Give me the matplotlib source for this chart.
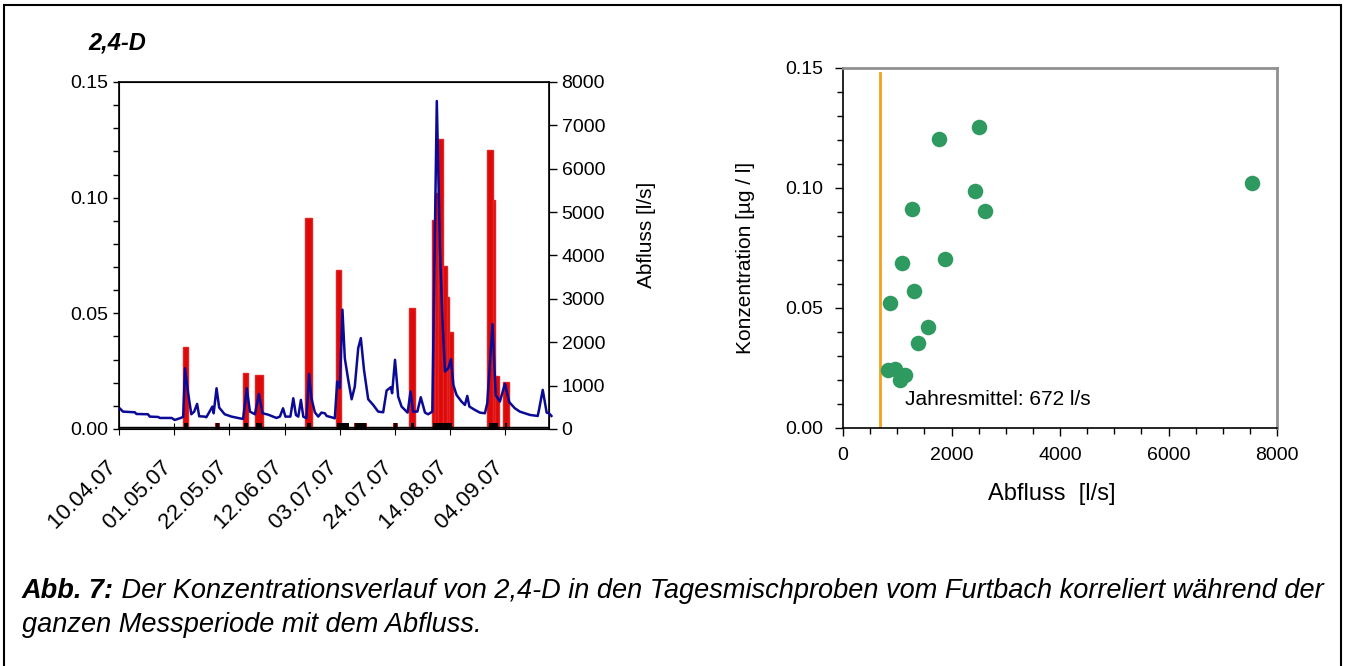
import numpy as np
import matplotlib
matplotlib.use("Agg")
import matplotlib.pyplot as plt
from matplotlib.patches import Rectangle
from matplotlib.ticker import MultipleLocator, FormatStrFormatter

plt.rcParams['font.family'] = ['Liberation Sans', 'DejaVu Sans']

# Tage seit 10.04.07
date_labels = ['10.04.07', '01.05.07', '22.05.07', '12.06.07',
               '03.07.07', '24.07.07', '14.08.07', '04.09.07']
label_days = [0, 21, 42, 63, 84, 105, 126, 147]

# Abfluss (l/s), Knickpunkte der Ganglinie
q_days = [0.5, 1.5, 6, 6.6, 11, 11.7, 14.9, 15.5, 20, 21.2, 23.1, 24.4, 25.1, 26.3,
          27.5, 28.6, 29.7, 30.5, 32.6, 33.2, 34.3, 35.5, 36.0, 37.1, 38.1, 40.2,
          42.8, 45.9, 47.2, 48.6, 49.8, 51.7, 53.2, 54.6, 56.7, 58.6, 59.9, 61.2,
          62.4, 63.3, 65.2, 66.3, 67.3, 68.2, 69.2, 70.1, 71.3, 72.3, 73.2, 74.5,
          75.8, 77.0, 78.3, 79.0, 80.8, 82.1, 83.0, 84.0, 85.0, 85.9, 87.2, 88.5,
          89.7, 91.0, 92.0, 93.2, 94.8, 96.7, 98.6, 100.5, 101.8, 103.4, 103.9,
          105.0, 106.2, 107.5, 109.4, 109.8, 110.9, 111.9, 113.5, 114.8, 116.4,
          117.6, 119.2, 120.9, 122.1, 123.0, 124.0, 125.3, 126.3, 127.2, 128.4,
          130.3, 131.6, 132.5, 133.3, 135.4, 137.3, 139.2, 140.1, 142.1, 143.3,
          144.9, 146.8, 148.5, 150.6, 152.5, 154.4, 156.4, 159.3, 159.9, 161.2,
          162.7, 163.6, 164.5]
q_vals = [462, 400, 385, 346, 339, 285, 277, 254, 254, 208, 246, 277, 1401, 824,
          339, 400, 578, 293, 285, 270, 385, 516, 362, 939, 493, 339,
          285, 246, 231, 939, 400, 339, 808, 362, 331, 285, 254, 285,
          477, 285, 285, 708, 323, 285, 670, 285, 246, 1270, 708, 385,
          285, 377, 362, 300, 270, 246, 1093, 939, 2749, 1632, 1132, 685,
          978, 1863, 2094, 1363, 685, 554, 400, 385, 886, 962, 824,
          1594, 747, 516, 400, 377, 862, 400, 400, 731, 377,
          339, 400, 7561, 4135, 2595, 1324, 1401, 1609, 1016, 785,
          631, 554, 762, 516, 439, 377, 362, 593, 2418, 785,
          631, 1040, 616, 477, 400, 362, 323, 300, 477, 901,
          377, 362, 300]

# Konzentration 2,4-D (ug/l), Probenahme von-bis (Tage)
s_start = [24.5, 47.3, 51.9, 70.8, 82.4, 110.4, 118.9, 120.4, 121.4, 123.2,
           124.6, 125.5, 140.1, 142.1, 143.0, 146.2]
s_end = [26.3, 49.2, 54.6, 73.6, 84.4, 112.6, 120.4, 121.4, 123.2, 124.6,
         125.5, 127.1, 142.1, 143.0, 144.5, 148.3]
conc = [0.0355, 0.0242, 0.0235, 0.0913, 0.0688, 0.0521, 0.0903, 0.1021, 0.1254,
        0.0704, 0.0571, 0.0421, 0.1204, 0.0988, 0.0227, 0.0201]

# Marker am Boden (Probenahmeperioden)
nd_start = [24.9, 36.9, 47.7, 52.3, 71.4, 82.9, 89.7, 104.7, 110.9, 119.5, 140.7, 146.7]
nd_end = [26.1, 38.1, 48.9, 54.3, 73.2, 87.6, 93.8, 105.8, 112.1, 126.5, 144.0, 147.7]
nd_red = [False, True, False, False, False, False, True, True, False, False, False, False]

# Streudiagramm: Abfluss vs Konzentration
sc_q = [2500, 1767, 7541, 2425, 1274, 2610, 1870, 1089, 1315, 870, 1575, 1390,
        829, 966, 1151, 1048]
sc_c = [0.1254, 0.1204, 0.1021, 0.0988, 0.0913, 0.0903, 0.0704, 0.0688, 0.0571,
        0.0521, 0.0421, 0.0354, 0.0240, 0.0246, 0.0222, 0.0201]
q_mean = 672

fs = 14
fig = plt.figure(figsize=(13.45, 6.66), dpi=100)
fig.patches.append(Rectangle((0.003, -0.02), 0.994, 1.013, transform=fig.transFigure,
                             fill=False, lw=1.5, ec='black'))

# ---- links: Zeitreihe
ax1 = fig.add_axes([0.0885, 0.3559, 0.3197, 0.521])
ax2 = ax1.twinx()

widths = np.array(s_end) - np.array(s_start)
ax1.bar(s_start, conc, width=widths, align='edge', color='#DD0808',
        edgecolor='#E42424', linewidth=1.0, zorder=2)
nd_w = np.array(nd_end) - np.array(nd_start)
for x0, w, r in zip(nd_start, nd_w, nd_red):
    if r:
        ax1.bar(x0 - 0.4, 0.0026, width=w + 0.8, align='edge', color='#DD0808', lw=0, zorder=2)
ax1.bar(nd_start, [0.0026] * len(nd_start), width=nd_w, align='edge', color='black',
        lw=0, zorder=3)
ax1.axhline(0.0007, color='black', lw=1, zorder=3)

ax1.set_xlim(0, 163.6)
ax1.set_ylim(0, 0.15)
ax1.set_xticks(label_days)
# trailing spaces push the rotated labels a little to the lower left
ax1.set_xticklabels([d + '   ' for d in date_labels], rotation=45, ha='right', va='top',
                    rotation_mode='anchor', fontsize=16)
ax1.yaxis.set_major_locator(MultipleLocator(0.05))
ax1.yaxis.set_minor_locator(MultipleLocator(0.01))
ax1.yaxis.set_major_formatter(FormatStrFormatter('%.2f'))
ax1.tick_params(axis='y', which='both', direction='out', length=4.5, width=1,
                labelsize=fs)
ax1.tick_params(axis='x', direction='inout', length=8, width=0.8, pad=7)
for sp in ax1.spines.values():
    sp.set_linewidth(1.2)

ax2.plot(q_days, q_vals, color='#0A0A96', lw=1.8, clip_on=False, zorder=4)
ax2.set_ylim(0, 8000)
ax2.set_yticks(np.arange(0, 8001, 1000))
ax2.tick_params(axis='y', direction='out', length=5.5, width=1, labelsize=fs)
ax2.set_xlim(0, 163.6)

fig.text(0.0654, 0.9354, '2,4-D', fontsize=17, fontweight='bold', style='italic',
         ha='left', va='center')
fig.text(0.481, 0.647, 'Abfluss [l/s]', rotation=90, fontsize=15, ha='center', va='center')

# ---- rechts: Streudiagramm
ax3 = fig.add_axes([0.6268, 0.3574, 0.3227, 0.5405])
ax3.axvline(q_mean, ymax=0.987, color='#F5A01E', lw=2, zorder=2)
ax3.scatter(sc_q, sc_c, s=125, color='#2E9A60', zorder=3, linewidths=0)
ax3.text(1140, 0.0117, 'Jahresmittel: %d l/s' % q_mean, fontsize=15,
         ha='left', va='center')
ax3.set_xlim(0, 8000)
ax3.set_ylim(0, 0.15)
ax3.xaxis.set_major_locator(MultipleLocator(2000))
ax3.xaxis.set_minor_locator(MultipleLocator(500))
ax3.yaxis.set_major_locator(MultipleLocator(0.05))
ax3.yaxis.set_minor_locator(MultipleLocator(0.01))
ax3.yaxis.set_major_formatter(FormatStrFormatter('%.2f'))
ax3.tick_params(which='major', direction='out', length=6, width=1, labelsize=fs, pad=8)
ax3.tick_params(which='minor', direction='out', length=4, width=1)
ax3.spines['left'].set_linewidth(1.2)
ax3.spines['bottom'].set_linewidth(1.2)
for side in ['top', 'right']:
    ax3.spines[side].set_color('#909090')
    ax3.spines[side].set_linewidth(2)
fig.text(0.554, 0.613, 'Konzentration [µg / l]', rotation=90, fontsize=15,
         ha='center', va='center')
fig.text(0.782, 0.258, 'Abfluss  [l/s]', fontsize=17, ha='center', va='center')

# ---- Legende unten
t1 = fig.text(0.0164, 0.1126, 'Abb. 7:', fontsize=19.5, fontweight='bold',
              style='italic', ha='left', va='center')
plt.annotate(' Der Konzentrationsverlauf von 2,4-D in den Tagesmischproben vom Furtbach '
             'korreliert während der', xy=(1, 0.5), xycoords=t1, va='center',
             ha='left', fontsize=19.5, style='italic', annotation_clip=False)
fig.text(0.0164, 0.0616, 'ganzen Messperiode mit dem Abfluss.', fontsize=19.5,
         style='italic', ha='left', va='center')

fig.savefig('out.png', dpi=100)
